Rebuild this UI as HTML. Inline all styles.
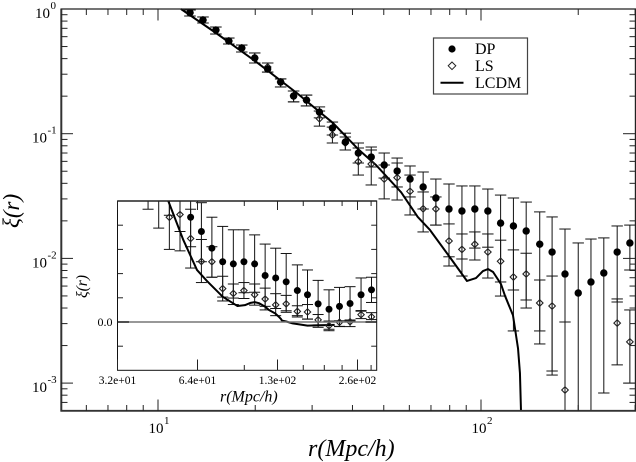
<!DOCTYPE html>
<html lang="en">
<head>
<meta charset="utf-8">
<title>Correlation function chart</title>
<style>
html,body{margin:0;padding:0;background:#fff;width:636px;height:462px;overflow:hidden;}
svg{display:block;overflow:hidden;}
text{font-family:"Liberation Serif","DejaVu Serif",serif;fill:#000;}
</style>
</head>
<body>
<svg id="chart" width="636" height="462" viewBox="0 0 636 462" xmlns="http://www.w3.org/2000/svg">
  <rect x="0" y="0" width="636" height="462" fill="#fff"/>
  <g id="main-marks"></g>
  <g id="main-axes"></g>
  <rect x="117.5" y="201" width="259.2" height="169.3" fill="#fff"/>
  <g id="inset-marks"></g>
  <g id="inset-axes"></g>

  <text x="308" y="456" font-size="24" font-style="italic">r(Mpc/h)</text>
  <text transform="translate(19 228) rotate(-90)" font-size="23" font-style="italic">ξ(r)</text>
  <text x="220" y="401.5" font-size="16" font-style="italic">r(Mpc/h)</text>
  <text transform="translate(87 298) rotate(-90)" font-size="15.5" font-style="italic">ξ(r)</text>

  <g>
    <rect x="433.5" y="38" width="94" height="56" fill="#fff" stroke="#444" stroke-width="1.2"/>
    <circle cx="452" cy="49" r="3.6" fill="#000"/>
    <text x="475" y="54" font-size="16">DP</text>
    <path d="M452 62 L455.8 65.8 L452 69.6 L448.2 65.8 Z" fill="none" stroke="#222" stroke-width="1"/>
    <text x="475" y="71" font-size="16">LS</text>
    <line x1="440.5" y1="82.7" x2="463.5" y2="82.7" stroke="#000" stroke-width="2"/>
    <text x="475" y="88" font-size="16">LCDM</text>
  </g>
</svg>
<script>
// Pair separation r (Mpc/h) shared by the DP and LS estimators
const radii = [12.56,13.78,15.11,16.57,18.17,19.93,21.85,23.97,26.29,28.83,31.61,34.67,38.02,41.70,45.73,50.15,55.0,60.3,66.2,72.5,79.6,87.3,95.7,105,115,126,138,152,166,182,200,219,240,264,289];
// DP estimator
const dpXi = [0.934,0.816,0.678,0.554,0.487,0.405,0.330,0.260,0.2006,0.186,0.149,0.111,0.0858,0.0700,0.0650,0.0561,0.0502,0.0433,0.0374,0.0305,0.0249,0.0240,0.0249,0.0240,0.0192,0.0182,0.0166,0.0130,0.01125,0.0075,0.00528,0.00647,0.00764,0.01125,0.0133];
const dpUpper = [0.982,0.863,0.717,0.585,0.514,0.444,0.369,0.275,0.220,0.204,0.164,0.124,0.101,0.0842,0.0782,0.0700,0.0638,0.0551,0.0493,0.0433,0.0395,0.0381,0.0381,0.0360,0.0322,0.0305,0.0283,0.0236,0.0215,0.0172,0.0133,0.0143,0.0146,0.0182,0.0185];
const dpLower = [0.879,0.772,0.630,0.524,0.452,0.369,0.312,0.237,0.180,0.167,0.134,0.0976,0.0740,0.0582,0.0541,0.0441,0.0374,0.0311,0.0249,0.0185,0.0103,0.00989,0.0121,0.0123,0.00647,0.00558,0.00464,0.00262,0.00125,-0.0022,-0.0030,-0.0018,0.000833,0.00447,0.00807];
// LS estimator
const lsXi = [0.929,0.816,0.678,0.554,0.487,0.405,0.343,0.260,0.201,0.186,0.132,0.0976,0.0842,0.0596,0.0571,0.0433,0.0444,0.0345,0.0250,0.0249,0.0138,0.0118,0.0130,0.01125,0.00948,0.00709,0.00750,0.00439,0.00415,0.00088,-0.0015,-0.0001,0.0001,0.00303,0.00214];
const lsUpper = [0.982,0.863,0.717,0.585,0.514,0.444,0.369,0.275,0.220,0.204,0.152,0.113,0.0941,0.0768,0.0740,0.0561,0.0582,0.0466,0.0341,0.0311,0.0189,0.0157,0.0163,0.0157,0.0140,0.0117,0.0110,0.00671,0.00722,0.00309,0.0004,0.0005,0.0004,0.00473,0.00386];
const lsLower = [0.879,0.772,0.630,0.524,0.452,0.369,0.312,0.237,0.180,0.167,0.115,0.0842,0.0740,0.0466,0.0388,0.0300,0.0294,0.0223,0.0163,0.0185,0.00869,0.00722,0.00971,0.00696,0.00499,0.00262,0.00400,0.00206,0.00116,-0.0012,-0.0036,-0.0019,-0.0019,0.00140,0.00100];
// LCDM model curve
const lcdmR = [11.78,15.12,19.97,26.9,31.7,34.8,41.6,47.3,56.6,63.7,69.5,79.6,90.5,96.5,101.4,105.1,109,115.3,118.7,125.6,130.2,132,133,138,145,166,210];
const lcdmXi = [1.0,0.642,0.383,0.212,0.149,0.122,0.0754,0.0561,0.0339,0.0215,0.0169,0.01045,0.00659,0.00696,0.00792,0.00822,0.00778,0.00623,0.00500,0.00350,0.00190,0.00120,0.00059,0.0002,-0.0005,-0.0015,-0.0012];
// Axis tick values
const mainXMinor = [6,7,8,9,20,30,40,50,60,70,80,90,200,300];
const mainXMajorExp = [1,2];
const mainYMinor = [0.9,0.8,0.7,0.6,0.5,0.4,0.3,0.2,0.09,0.08,0.07,0.06,0.05,0.04,0.03,0.02,0.009,0.008,0.007,0.006,0.005,0.004,0.003,0.002,0.0009,0.0008,0.0007];
const mainYMajorExp = [0,-1,-2,-3];
const insetXMinor = [96,160,192,224,288];
const insetXMajor = [32,64,128,256];
const insetXLabels = ['3.2e+01','6.4e+01','1.3e+02','2.6e+02'];
const insetYMinor = [-0.01,0.01,0.02,0.03,0.04];
const insetYMajor = [0];
const insetYLabels = ['0.0'];

const NS = 'http://www.w3.org/2000/svg';
const xMain = r => 158 + 323 * (Math.log10(r) - 1);
const yMain = v => v > 0 ? 9 - 124.7 * Math.log10(v) : Infinity;
const xInset = r => 117.5 + 80 * Math.log2(r / 32);
const yInset = v => 322 - 2420 * v;

function mk(parent, tag, props, txt) {
  const el = document.createElementNS(NS, tag);
  for (const k in props) el.setAttribute(k, props[k]);
  if (txt !== undefined) el.textContent = txt;
  parent.appendChild(el);
  return el;
}
function seg(parent, x1, y1, x2, y2, w, col) {
  return mk(parent, 'line', {x1: x1, y1: y1, x2: x2, y2: y2, stroke: col || '#000', 'stroke-width': w || 1});
}

/* Every mark is cut to the plot window here, so nothing extends past its axes. */
function drawSeries(parent, xf, yf, win, capHalf, markerR, diamondR) {
  const inY = y => y >= win.top && y <= win.bottom;
  const clampY = y => Math.min(win.bottom, Math.max(win.top, y));

  function bars(up, low, nameBar, nameCap) {
    radii.forEach((r, i) => {
      const x = xf(r);
      if (x < win.left || x > win.right) return;
      const yU = yf(up[i]);
      const yL = yf(low[i]);
      if (yU > win.bottom || yL < win.top) return;
      const bar = seg(parent, x, clampY(yU), x, clampY(yL), 1, '#111');
      
      
      if (inY(yU)) {
        const capU = seg(parent, x - capHalf, yU, x + capHalf, yU, 1, '#111');
        
        
      }
      if (inY(yL)) {
        const capL = seg(parent, x - capHalf, yL, Math.min(x + capHalf, win.right), yL, 1, '#111');
        
        
      }
    });
  }
  bars(lsUpper, lsLower, 'ls-error-bar', 'ls-error-cap');
  bars(dpUpper, dpLower, 'dp-error-bar', 'dp-error-cap');

  const pts = [];
  for (let i = 0; i + 1 < lcdmR.length; i++) {
    const x1 = xf(lcdmR[i]), y1 = yf(lcdmXi[i]);
    const x2 = xf(lcdmR[i + 1]);
    let y2 = yf(lcdmXi[i + 1]);
    if (!isFinite(y1)) break;
    if (!isFinite(y2)) y2 = win.bottom + 100;
    if ((y1 < win.top && y2 < win.top) || (y1 > win.bottom && y2 > win.bottom)) continue;
    const at = y => x1 + (x2 - x1) * (y - y1) / (y2 - y1);
    const ax = inY(y1) ? x1 : at(clampY(y1));
    const bx = inY(y2) ? x2 : at(clampY(y2));
    if (!pts.length) pts.push(ax.toFixed(2) + ',' + clampY(y1).toFixed(2));
    pts.push(bx.toFixed(2) + ',' + clampY(y2).toFixed(2));
  }
  const curve = mk(parent, 'polyline', {points: pts.join(' '), fill: 'none', stroke: '#000', 'stroke-width': 2, 'stroke-linejoin': 'round'});
  
  

  radii.forEach((r, i) => {
    const x = xf(r), y = yf(lsXi[i]);
    if (x < win.left || !inY(y)) return;
    const d = 'M' + x + ' ' + (y - diamondR) + ' L' + (x + diamondR) + ' ' + y + ' L' + x + ' ' + (y + diamondR) + ' L' + (x - diamondR) + ' ' + y + ' Z';
    const m = mk(parent, 'path', {d: d, fill: 'none', stroke: '#222', 'stroke-width': 1.1});
    
    
  });
  radii.forEach((r, i) => {
    const x = xf(r), y = yf(dpXi[i]);
    if (x < win.left || !inY(y)) return;
    const m = mk(parent, 'circle', {cx: x, cy: y, r: markerR, fill: '#000'});
    
    
  });
}

/* ---- main plot ---- */
const mainMarks = document.getElementById('main-marks');
drawSeries(mainMarks, xMain, yMain, {left: 61, right: 636, top: 9, bottom: 411}, 5.7, 3.7, 3.3);

const mainAxes = document.getElementById('main-axes');
const mainFrameTop = seg(mainAxes, 61, 9, 636, 9, 1.2, '#222');


const mainFrameRight = seg(mainAxes, 635.4, 9, 635.4, 411, 1.2, '#222');


const mainFrameLeft = seg(mainAxes, 61.3, 8.5, 61.3, 411.5, 2, '#333');


const mainFrameBottom = seg(mainAxes, 60.5, 410.8, 636, 410.8, 1.8, '#333');



mainXMinor.forEach(v => {
  const x = xMain(v);
  const a = seg(mainAxes, x, 9, x, 15, 1, '#222');
  
  
  const b = seg(mainAxes, x, 411, x, 405, 1, '#222');
  
  
});
mainXMajorExp.forEach(e => {
  const x = xMain(Math.pow(10, e));
  const a = seg(mainAxes, x, 9, x, 20.5, 1, '#222');
  
  
  const b = seg(mainAxes, x, 411, x, 399.5, 1, '#222');
  
  
  const t = mk(mainAxes, 'text', {x: x - 9.5, y: 433, 'font-size': 15});
  
  
  mk(t, 'tspan', {}, '10');
  mk(t, 'tspan', {dx: 0.5, dy: -9, 'font-size': 11}, String(e));
});
mainYMinor.forEach(v => {
  const y = yMain(v);
  const a = seg(mainAxes, 61, y, 67.5, y, 1, '#222');
  
  
  const b = seg(mainAxes, 636, y, 629.5, y, 1, '#222');
  
  
});
mainYMajorExp.forEach(e => {
  const y = yMain(Math.pow(10, e));
  const a = seg(mainAxes, 61, y, 73, y, 1, '#222');
  
  
  const b = seg(mainAxes, 636, y, 623, y, 1, '#222');
  
  
  const t = mk(mainAxes, 'text', {x: e === 0 ? 35 : 32, y: y + 9, 'font-size': 15});
  
  
  mk(t, 'tspan', {}, '10');
  mk(t, 'tspan', {dx: 0.5, dy: -9, 'font-size': 11}, e === 0 ? '0' : '-' + Math.abs(e));
});

/* ---- inset plot ---- */
const insetMarks = document.getElementById('inset-marks');
drawSeries(insetMarks, xInset, yInset, {left: 117.5, right: 376.7, top: 201, bottom: 370.3}, 5.5, 3.5, 3.2);
const zeroLine = seg(insetMarks, 117.5, yInset(0), 376.7, yInset(0), 1.6, '#777');



const insetAxes = document.getElementById('inset-axes');
const insetFrame = mk(insetAxes, 'rect', {x: 117.5, y: 201, width: 259.2, height: 169.3, fill: 'none', stroke: '#111', 'stroke-width': 1});


const insetTopEdge = seg(insetAxes, 117.5, 201, 376.7, 201, 1.5, '#222');



insetXMinor.forEach(v => {
  const x = xInset(v);
  const a = seg(insetAxes, x, 201, x, 206, 1, '#222');
  
  
  const b = seg(insetAxes, x, 370.3, x, 365, 1, '#222');
  
  
});
insetXMajor.forEach((v, i) => {
  const x = xInset(v);
  const a = seg(insetAxes, x, 201, x, 210, 1, '#222');
  
  
  const b = seg(insetAxes, x, 370.3, x, 359.5, 1, '#222');
  
  
  const t = mk(insetAxes, 'text', {x: x, y: 384, 'font-size': 11.5, 'text-anchor': 'middle'}, insetXLabels[i]);
  
  
});
insetYMinor.forEach(v => {
  const y = yInset(v);
  const a = seg(insetAxes, 117.5, y, 123, y, 1, '#222');
  
  
  const b = seg(insetAxes, 376.7, y, 371.2, y, 1, '#222');
  
  
});
insetYMajor.forEach((v, i) => {
  const y = yInset(v);
  const a = seg(insetAxes, 117.5, y, 129, y, 1.4, '#222');
  
  
  const b = seg(insetAxes, 376.7, y, 365.5, y, 1.4, '#222');
  
  
  const t = mk(insetAxes, 'text', {x: 112.5, y: y + 4, 'font-size': 12, 'text-anchor': 'end'}, insetYLabels[i]);
  
  
});
</script>
</body>
</html>
